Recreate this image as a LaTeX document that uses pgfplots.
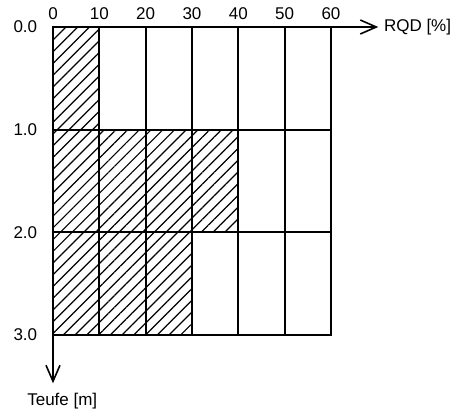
\documentclass[border=0pt]{standalone}
\usepackage{fontspec}
\setmainfont{Liberation Sans}
\usepackage{pgfplots}
\pgfplotsset{compat=1.18}
\usetikzlibrary{patterns.meta,arrows.meta}
\begin{document}
\fontsize{17}{20}\selectfont
\begin{tikzpicture}[x=1pt,y=1pt]
\useasboundingbox (0,0) rectangle (456,-410);
\begin{axis}[
  at={(53pt,-27pt)}, anchor=origin,
  scale only axis, width=278pt, height=308pt,
  xmin=0, xmax=60, ymin=0, ymax=3, y dir=reverse,
  xtick={0,10,...,60}, ytick={0,1,2,3},
  xticklabel pos=top,
  yticklabel style={/pgf/number format/fixed, /pgf/number format/fixed zerofill, /pgf/number format/precision=1, xshift=-10pt},
  xticklabel style={yshift=1pt},
  /pgf/number format/assume math mode=true,
  grid=major, major grid style={black, line width=1.7pt},
  major tick length=0pt,
  axis line style={line width=1.7pt},
  axis on top, clip=false,
  tick label style={font=\fontsize{17}{20}\selectfont},
]
\addplot[xbar interval, draw=none,
  pattern={Lines[angle=45,distance=8.3pt,line width=1.2pt]}]
  coordinates {(10,0) (40,1) (30,2) (30,3)};
\draw[line width=2pt, -{Straight Barb[length=16pt,width=14pt,line width=1.6pt]}] (axis cs:0,0) -- (axis cs:70.2,0);
\draw[line width=2pt, -{Straight Barb[length=16pt,width=14pt,line width=1.6pt]}] (axis cs:0,0) -- (axis cs:0,3.47);
\node[anchor=west, inner sep=0pt] at (axis cs:71.4,0) {RQD [\%]};
\node[anchor=north, inner sep=0pt] at (axis cs:2.0,3.56) {Teufe [m]};
\end{axis}
\end{tikzpicture}
\end{document}
